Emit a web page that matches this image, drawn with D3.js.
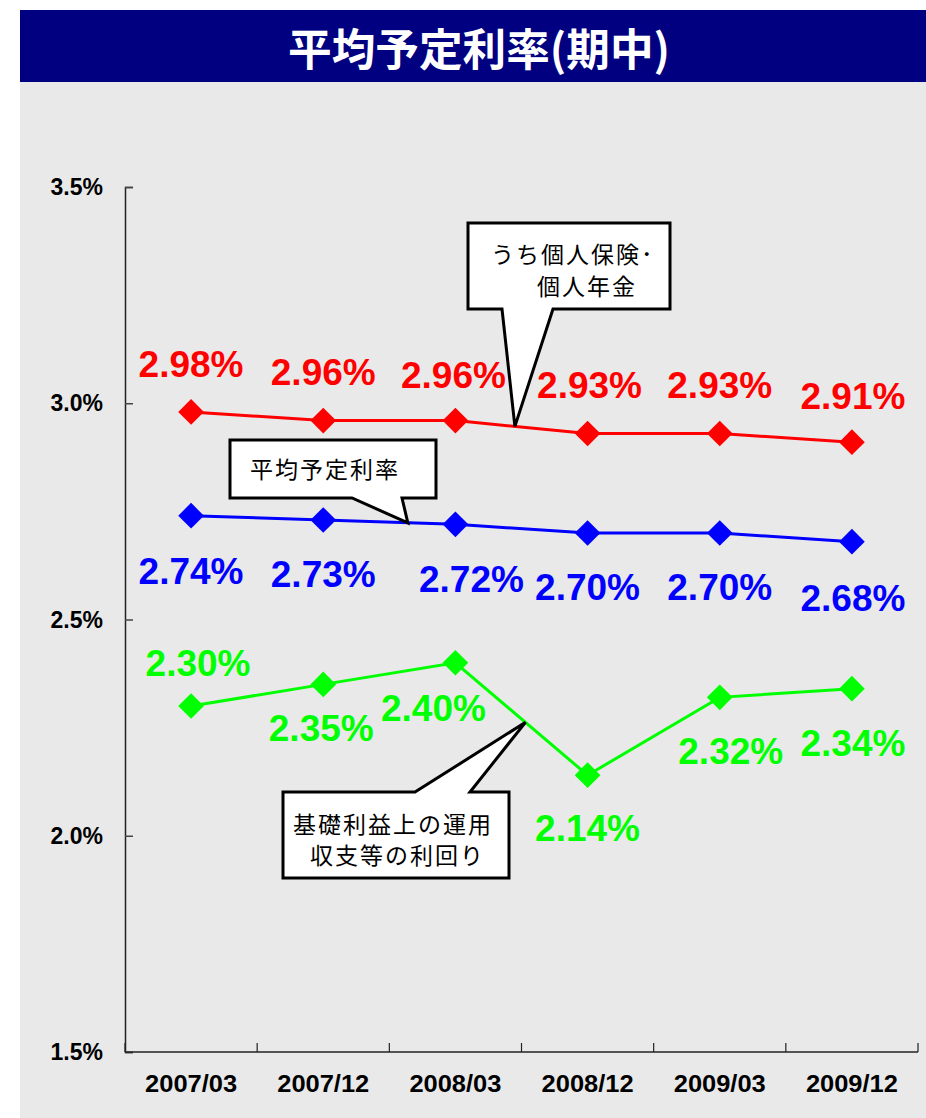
<!DOCTYPE html>
<html>
<head>
<meta charset="utf-8">
<script src="https://cdn.jsdelivr.net/npm/d3@7"></script>
<style>
  body { margin: 0; background: #fff; }
  svg { display: block; }
</style>
</head>
<body>
<svg id="chart" width="926" height="1118"></svg>
<script>

// Data
var periods = ["2007/03", "2007/12", "2008/03", "2008/12", "2009/03", "2009/12"];
var kojinRates = [2.98, 2.96, 2.96, 2.93, 2.93, 2.91];   // うち個人保険・個人年金
var averageRates = [2.74, 2.73, 2.72, 2.70, 2.70, 2.68]; // 平均予定利率
var returnRates = [2.30, 2.35, 2.40, 2.14, 2.32, 2.34];  // 基礎利益上の運用収支等の利回り
var yTicks = [1.5, 2.0, 2.5, 3.0, 3.5];

// label offsets (layout only)
var redOffsets = [[0, -35], [0, -36], [-2, -33], [2, -36], [0, -36], [1, -33]];
var blueOffsets = [[0, 68], [0, 67], [16, 68], [0, 67], [0, 67], [1, 69]];
var greenOffsets = [[7, -30], [-2, 57], [-22, 58], [0, 66], [11, 67], [1, 67]];

var svg = d3.select("#chart");

// Background
svg.append("rect")
    .attr("x", 20).attr("y", 82)
    .attr("width", 906).attr("height", 1036)
    .attr("fill", "#e9e9e9");

// Title bar
svg.append("rect")
    .attr("x", 20).attr("y", 10)
    .attr("width", 906).attr("height", 72)
    .attr("fill", "#000080");

svg.append("text")
    .attr("x", 479).attr("y", 66)
    .attr("text-anchor", "middle")
    .attr("fill", "#fff")
    .style("font-family", "'Noto Sans CJK JP', sans-serif")
    .style("font-weight", "bold")
    .style("font-size", "44px")
    .attr("textLength", 382)
    .attr("lengthAdjust", "spacingAndGlyphs")
    .text("平均予定利率(期中)");

// Scales
var x = d3.scaleBand()
    .domain(periods)
    .range([125, 918]);

var y = d3.scaleLinear()
    .domain([1.5, 3.5])
    .range([1052, 187]);

function cx(i) { return x(periods[i]) + x.bandwidth() / 2; }

// Y axis
var yAxis = svg.append("g")
    .attr("transform", "translate(125,0)")
    .call(d3.axisRight(y).tickValues(yTicks).tickSize(8).tickFormat(""));
yAxis.select(".domain").attr("stroke", "#222").attr("stroke-width", 1.5);
yAxis.selectAll(".tick line").attr("stroke", "#444").attr("stroke-width", 1.5);

svg.append("g").selectAll("text")
    .data(yTicks)
    .enter()
    .append("text")
    .attr("x", 103)
    .attr("y", function(d) { return y(d) + 8; })
    .attr("text-anchor", "end")
    .style("font-family", "'Liberation Sans', Arial, sans-serif")
    .style("font-weight", "bold")
    .style("font-size", "23px")
    .attr("fill", "#000")
    .text(function(d) { return d.toFixed(1) + "%"; });

// X axis
var xAxis = svg.append("g")
    .attr("transform", "translate(0,1052)");
xAxis.append("line")
    .attr("x1", 125).attr("x2", 918)
    .attr("stroke", "#222").attr("stroke-width", 1.5);
xAxis.selectAll("line.tick")
    .data(periods.concat(["end"]))
    .enter()
    .append("line")
    .attr("class", "tick")
    .attr("x1", function(d, i) { return i < periods.length ? x(d) : x.range()[1]; })
    .attr("x2", function(d, i) { return i < periods.length ? x(d) : x.range()[1]; })
    .attr("y1", 0).attr("y2", -9)
    .attr("stroke", "#222").attr("stroke-width", 1.2);

xAxis.selectAll("text")
    .data(periods)
    .enter()
    .append("text")
    .attr("x", function(d, i) { return cx(i); })
    .attr("y", 40)
    .attr("text-anchor", "middle")
    .style("font-family", "'Liberation Sans', Arial, sans-serif")
    .style("font-weight", "bold")
    .style("font-size", "24px")
    .attr("textLength", 92)
    .attr("lengthAdjust", "spacingAndGlyphs")
    .attr("fill", "#000")
    .text(function(d) { return d; });

// Series
var series = [
    { values: kojinRates, color: "#ff0000", offsets: redOffsets },
    { values: averageRates, color: "#0000ff", offsets: blueOffsets },
    { values: returnRates, color: "#00ff00", offsets: greenOffsets }
];

var line = d3.line()
    .x(function(d, i) { return cx(i); })
    .y(function(d) { return y(d); });

var diamond = d3.symbol().type(d3.symbolSquare).size(330);

series.forEach(function(s) {
    var g = svg.append("g");

    g.append("path")
        .datum(s.values)
        .attr("d", line)
        .attr("fill", "none")
        .attr("stroke", s.color)
        .attr("stroke-width", 3);

    g.selectAll("path.marker")
        .data(s.values)
        .enter()
        .append("path")
        .attr("class", "marker")
        .attr("d", diamond)
        .attr("transform", function(d, i) {
            return "translate(" + cx(i) + "," + y(d) + ") rotate(45)";
        })
        .attr("fill", s.color);

    g.selectAll("text")
        .data(s.values)
        .enter()
        .append("text")
        .attr("x", function(d, i) { return cx(i) + s.offsets[i][0]; })
        .attr("y", function(d, i) { return y(d) + s.offsets[i][1]; })
        .attr("text-anchor", "middle")
        .style("font-family", "'Liberation Sans', Arial, sans-serif")
        .style("font-weight", "bold")
        .style("font-size", "37px")
        .attr("fill", s.color)
        .text(function(d) { return d.toFixed(2) + "%"; });
});

// Callouts
function pointOn(values, i, t) {
    var x0 = cx(i), x1 = cx(i + 1);
    return [x0 + (x1 - x0) * t, y(values[i] + (values[i + 1] - values[i]) * t)];
}

function callout(box, base, tip, lines) {
    var g = svg.append("g");
    var x0 = box[0], y0 = box[1], x1 = box[0] + box[2], y1 = box[1] + box[3];
    var path;
    if (base[2] === "bottom") {
        path = [[x0, y0], [x1, y0], [x1, y1], [base[1], y1], tip, [base[0], y1], [x0, y1]];
    } else {
        path = [[x0, y0], [base[0], y0], tip, [base[1], y0], [x1, y0], [x1, y1], [x0, y1]];
    }
    g.append("path")
        .attr("d", "M" + path.join("L") + "Z")
        .attr("fill", "#fff")
        .attr("stroke", "#000")
        .attr("stroke-width", 3)
        .attr("stroke-linejoin", "miter");

    lines.forEach(function(l) {
        g.append("text")
            .attr("x", l[0]).attr("y", l[1])
            .attr("text-anchor", l[3] || "start")
            .style("font-family", "'Noto Sans CJK JP', sans-serif")
            .style("font-size", "23px")
            .style("letter-spacing", "2px")
            .attr("fill", "#000")
            .text(l[2]);
    });
}

callout([468, 223, 202, 86], [502, 553, "bottom"], pointOn(kojinRates, 2, 0.45), [
    [491, 263, "うち個人保険･"],
    [537, 295, "個人年金"]
]);

callout([230, 440, 206, 58], [352, 402, "bottom"], pointOn(averageRates, 1, 0.64), [
    [250, 478, "平均予定利率"]
]);

callout([283, 792, 226, 86], [415, 470, "top"], pointOn(returnRates, 2, 0.53), [
    [293, 833, "基礎利益上の運用"],
    [310, 864, "収支等の利回り"]
]);

</script>
</body>
</html>
